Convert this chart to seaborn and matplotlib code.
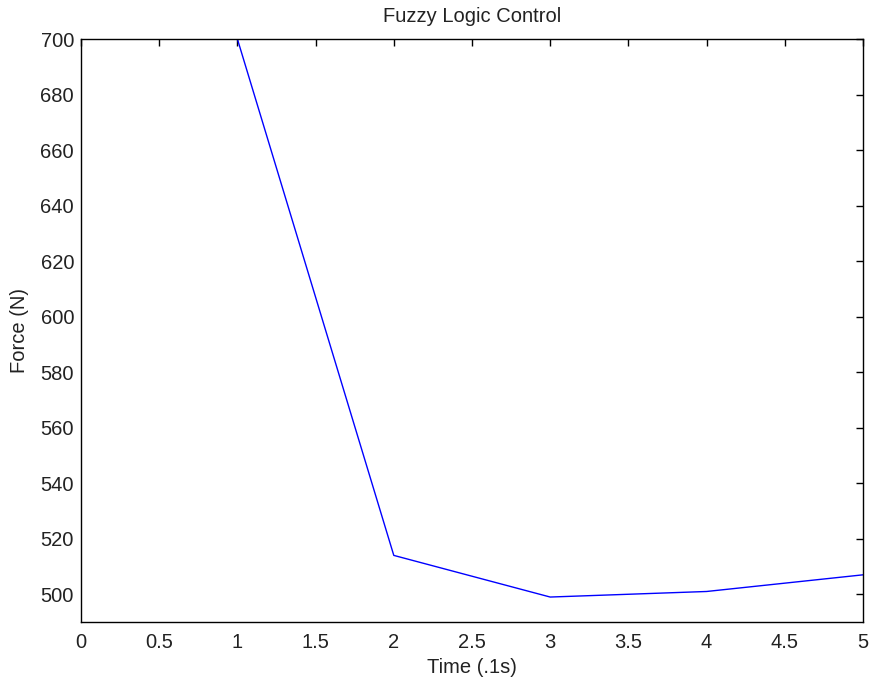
import matplotlib
matplotlib.use("Agg")
import matplotlib.pyplot as plt
import seaborn as sns
import pandas as pd

# Controller output force at each time step
time_steps = [1, 2, 3, 4, 5]
force_values = [700, 514, 499, 501, 507]

x_ticks = [0, 0.5, 1, 1.5, 2, 2.5, 3, 3.5, 4, 4.5, 5]
y_ticks = [500, 520, 540, 560, 580, 600, 620, 640, 660, 680, 700]

sns.set_theme(style="white")
plt.rcParams["font.family"] = ["Liberation Sans", "DejaVu Sans"]

df = pd.DataFrame({"time": time_steps, "force": force_values})

fig = plt.figure(figsize=(8.73, 6.81), dpi=100)
ax = fig.add_axes([0.0928, 0.0866, 0.8957, 0.8561])

sns.lineplot(data=df, x="time", y="force", ax=ax, color="#0000ff", linewidth=1.0)

ax.set_xlim(0, 5)
ax.set_ylim(490, 700)
ax.set_xticks(x_ticks)
ax.set_xticklabels([f"{t:g}" for t in x_ticks])
ax.set_yticks(y_ticks)
ax.set_yticklabels([str(t) for t in y_ticks])

text_color = "#222222"
fs = 14.5
ax.tick_params(direction="in", length=5, width=1, color="black",
               top=True, right=True, labelsize=fs, labelcolor=text_color)
ax.tick_params(axis="x", pad=8)
ax.tick_params(axis="y", pad=5)
for side in ax.spines.values():
    side.set_color("black")
    side.set_linewidth(1.0)

ax.set_title("Fuzzy Logic Control", fontsize=fs, color=text_color, pad=12)
ax.set_xlabel("Time (.1s)", fontsize=fs, color=text_color, labelpad=4)
ax.set_ylabel("Force (N)", fontsize=fs, color=text_color, labelpad=8)

fig.savefig("out.png", dpi=100, facecolor="white")
